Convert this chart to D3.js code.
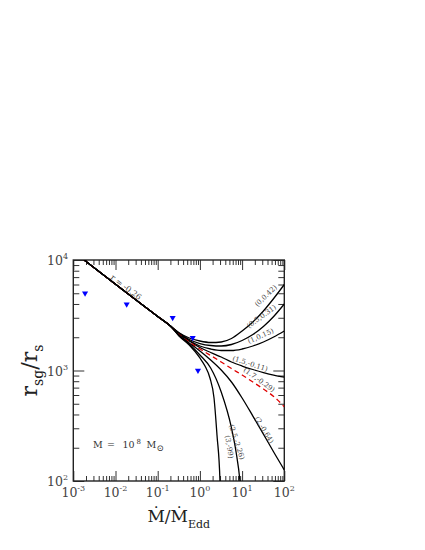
<!DOCTYPE html>
<html><head><meta charset="utf-8">
<script src="https://cdn.jsdelivr.net/npm/d3@7"></script>
<style>body{margin:0;background:#fff}svg{display:block}text{font-family:"DejaVu Serif",serif}</style>
</head><body><svg id="c" width="425" height="550"></svg>
<script>
// ---------- data ----------
const xExponents = [-3, -2, -1, 0, 1, 2];
const yExponents = [2, 3, 4];
// common low-accretion branch (r ~ Mdot^-0.26)
const baseMdot = [0.0018, 0.1, 0.2];
const baseR = [10000, 3083, 2529];
// sampled Mdot values for the fan of curves
const fanMdot = [0.32, 0.56, 1, 1.8, 3.2, 5.6, 10, 18, 32, 56, 100];
const rA = [2198, 1969, 1849, 1792, 1811, 1948, 2278, 2748, 3455, 4482, 6001];
const rB = [2185, 1908, 1755, 1684, 1666, 1719, 1869, 2117, 2502, 3082, 3997];
const rC = [2162, 1869, 1666, 1565, 1517, 1517, 1565, 1666, 1811, 2011, 2278];
const rD = [2140, 1849, 1615, 1455, 1325, 1194, 1098, 1021, 959, 910, 873];
const rE = [2117, 1811, 1565, 1367, 1194, 1042, 910, 787, 680, 582, 470];
const rF = [2096, 1774, 1501, 1245, 1010, 787, 564, 387, 266, 183, 126];
const gMdot = [0.32, 0.56, 1, 1.8, 3.2, 5.6, 7.2, 8.9, 9.6];
const rG = [2074, 1737, 1381, 1053, 639, 302, 183, 100, 70];
const hMdot = [0.32, 0.56, 1, 1.32, 1.73, 2.16, 2.54, 2.99, 3.05];
const rH = [2052, 1701, 1298, 1098, 855, 564, 261, 100, 60];
const curveLabels = ["(0,0.42)", "(0.5,0.31)", "(1,0.15)", "(1.5,-0.11)", "(1.7,-0.29)", "(2,-0.64)", "(2.5,-2.26)", "(3,-99)"];
const labelMdot = [36.8, 29.2, 27.7, 15.4, 25.1, 33.0, 7.36, 4.9];
const labelR = [4720, 3070, 2040, 1146, 820, 289, 225, 203];
const labelAngle = [-44, -36, -24, 18, 36, 59, 72, 80];
const slopeLabel = "r = -0.26";
const slopeLabelMdot = 0.0177, slopeLabelR = 5640;
// observed points (blue triangles)
const triMdot = [0.0019, 0.0184, 0.226, 0.675, 0.90];
const triR = [5000, 3970, 3000, 1980, 1000];

// ---------- chart ----------
const svg = d3.select("#c");
const L = 73.3, R = 284.3, T = 260, B = 481;
const x = d3.scaleLog().domain([1e-3, 1e2]).range([L, R]);
const y = d3.scaleLog().domain([1e2, 1e4]).range([B, T]);

svg.append("defs").append("clipPath").attr("id", "clip")
  .append("rect").attr("x", L).attr("y", T).attr("width", R - L).attr("height", B - T);

function minorVals(exps) {
  const v = [];
  for (let i = 0; i < exps.length - 1; i++)
    for (let k = 2; k <= 9; k++) v.push(k * Math.pow(10, exps[i]));
  return v;
}
const xMajor = xExponents.map(e => Math.pow(10, e));
const yMajor = yExponents.map(e => Math.pow(10, e));
const xMinor = minorVals(xExponents);
const yMinor = minorVals(yExponents);

function axisG(gen, vals, size, tx, ty) {
  const g = svg.append("g").attr("transform", `translate(${tx},${ty})`)
    .call(gen.tickValues(vals).tickSize(size).tickSizeOuter(0).tickFormat(""));
  g.select(".domain").remove();
  g.selectAll("line").attr("stroke", "#333").attr("stroke-width", 1);
}
axisG(d3.axisBottom(x), xMajor, -10, 0, B);
axisG(d3.axisBottom(x), xMinor, -5, 0, B);
axisG(d3.axisTop(x), xMajor, -10, 0, T);
axisG(d3.axisTop(x), xMinor, -5, 0, T);
axisG(d3.axisLeft(y), yMajor, -11, L, 0);
axisG(d3.axisLeft(y), yMinor, -6, L, 0);
axisG(d3.axisRight(y), yMajor, -11, R, 0);
axisG(d3.axisRight(y), yMinor, -6, R, 0);

svg.append("rect").attr("x", L).attr("y", T).attr("width", R - L).attr("height", B - T)
  .attr("fill", "none").attr("stroke", "#222").attr("stroke-width", 1.4);

// tick labels
xExponents.forEach(e => {
  const t = svg.append("text").attr("x", x(Math.pow(10, e))).attr("y", 497)
    .attr("text-anchor", "middle").attr("font-size", 12.5).attr("fill", "#444");
  t.append("tspan").text("10");
  t.append("tspan").attr("dy", -6).attr("font-size", 8).text(String(e));
});
yExponents.forEach(e => {
  const t = svg.append("text").attr("x", 68).attr("y", y(Math.pow(10, e)) + 5)
    .attr("text-anchor", "end").attr("font-size", 12.5).attr("fill", "#444");
  t.append("tspan").text("10");
  t.append("tspan").attr("dy", -6).attr("font-size", 8).text(String(e));
});

// axis titles
const xt = svg.append("text").attr("x", (L + R) / 2).attr("y", 522)
  .attr("text-anchor", "middle").attr("font-size", 17).attr("fill", "#222");
xt.append("tspan").text("\u1E40/\u1E40");
xt.append("tspan").attr("dy", 6).attr("font-size", 11).text("Edd");

const yt = svg.append("text").attr("transform", `translate(37,${(T + B) / 2}) rotate(-90)`)
  .attr("text-anchor", "middle").attr("font-size", 22).attr("fill", "#222");
yt.append("tspan").text("r");
yt.append("tspan").attr("dy", 6).attr("font-size", 14).text("sg");
yt.append("tspan").attr("dy", -6).text("/r");
yt.append("tspan").attr("dy", 6).attr("font-size", 14).text("s");

// curves
const line = d3.line().x(d => x(d[0])).y(d => y(d[1])).curve(d3.curveMonotoneX);
function pts(ms, rs) { return baseMdot.map((m, i) => [m, baseR[i]]).concat(ms.map((m, i) => [m, rs[i]])); }
const series = [
  {p: pts(fanMdot, rA)}, {p: pts(fanMdot, rB)}, {p: pts(fanMdot, rC)}, {p: pts(fanMdot, rD)},
  {p: pts(fanMdot, rE), dashed: true}, {p: pts(fanMdot, rF)}, {p: pts(gMdot, rG)}, {p: pts(hMdot, rH)}
];
const cg = svg.append("g").attr("clip-path", "url(#clip)");
series.forEach(s => {
  cg.append("path").attr("d", line(s.p)).attr("fill", "none")
    .attr("stroke", s.dashed ? "#e00000" : "#000").attr("stroke-width", 1.3)
    .attr("stroke-dasharray", s.dashed ? "5,3.5" : null);
});

// curve labels
curveLabels.forEach((lab, i) => {
  svg.append("text").attr("transform", `translate(${x(labelMdot[i])},${y(labelR[i])}) rotate(${labelAngle[i]})`)
    .attr("text-anchor", "middle").attr("dominant-baseline", "central")
    .attr("font-size", 7).attr("fill", "#444").text(lab);
});
svg.append("text").attr("transform", `translate(${x(slopeLabelMdot)},${y(slopeLabelR)}) rotate(37)`)
  .attr("text-anchor", "middle").attr("dominant-baseline", "central")
  .attr("font-size", 8).attr("fill", "#444").attr("xml:space", "preserve").text(slopeLabel);

// triangles
const tri = d3.symbol().type(d3.symbolTriangle).size(16);
triMdot.forEach((m, i) => {
  svg.append("path").attr("d", tri()).attr("fill", "#0000ff")
    .attr("transform", `translate(${x(m)},${y(triR[i])}) rotate(180)`);
});

// mass annotation
const mt = svg.append("text").attr("y", 448).attr("font-size", 9.5).attr("fill", "#333");
mt.append("tspan").attr("x", 93).text("M");
mt.append("tspan").attr("x", 107).text("=");
mt.append("tspan").attr("x", 122.5).text("10");
mt.append("tspan").attr("x", 136.5).attr("dy", -4).attr("font-size", 7).text("8");
mt.append("tspan").attr("x", 146.5).attr("dy", 4).text("M");
mt.append("tspan").attr("x", 156.5).attr("dy", 3).attr("font-size", 8.5).text("\u2299");
</script></body></html>
